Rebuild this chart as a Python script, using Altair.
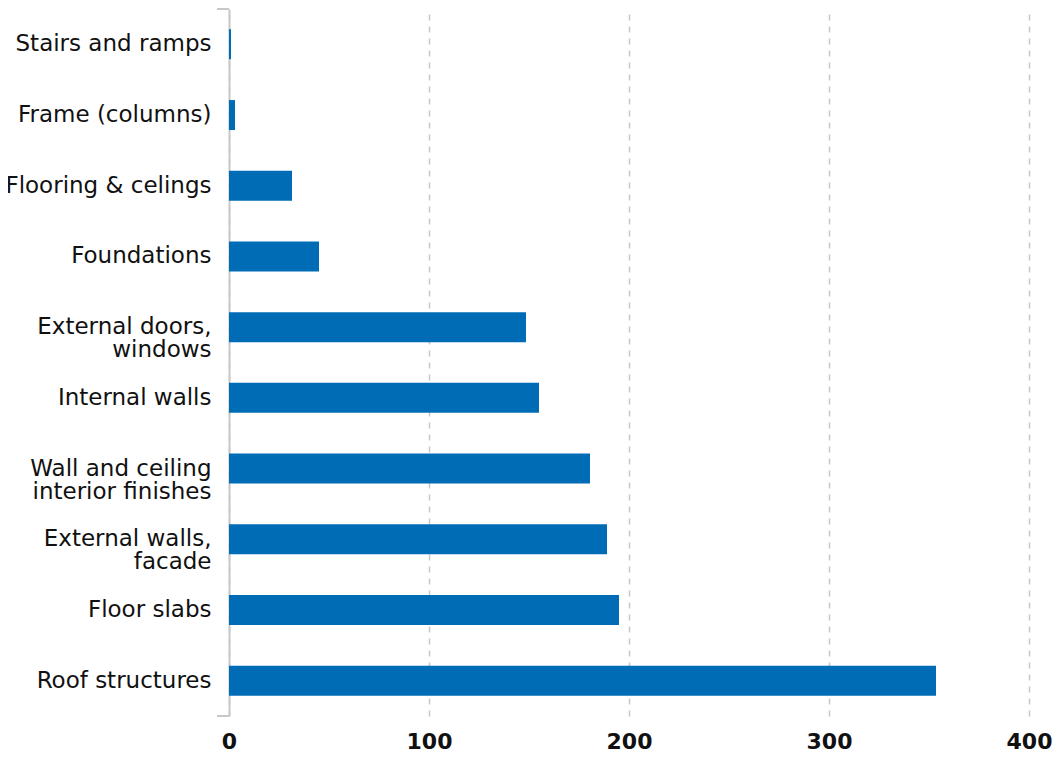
import altair as alt
import pandas as pd

categories = [
    "Stairs and ramps",
    "Frame (columns)",
    "Flooring & celings",
    "Foundations",
    "External doors,\nwindows",
    "Internal walls",
    "Wall and ceiling\ninterior finishes",
    "External walls,\nfacade",
    "Floor slabs",
    "Roof structures",
]
values = [1, 3, 31.5, 45, 148.5, 155, 180.5, 189, 195, 353.5]
x_ticks = [0, 100, 200, 300, 400]

df = pd.DataFrame({"category": categories, "value": values})

W, H = 800, 707
FONT = "DejaVu Sans"

bars = alt.Chart(df).mark_bar(size=30, color="#006CB5").encode(
    x=alt.X(
        "value:Q",
        scale=alt.Scale(domain=[0, 400], nice=False),
        axis=alt.Axis(
            values=x_ticks,
            title=None,
            domain=False,
            ticks=False,
            grid=True,
            gridColor="#c8c8c8",
            gridDash=[6, 6],
            gridWidth=1.5,
            labelFont=FONT,
            labelFontSize=22,
            labelFontWeight="bold",
            labelColor="#111111",
            labelPadding=15,
            labelFlush=False,
            labelOverlap=False,
        ),
    ),
    y=alt.Y(
        "category:N",
        sort=categories,
        title=None,
        axis=alt.Axis(
            ticks=False,
            domain=True,
            domainColor="#c8c8c8",
            domainWidth=2,
            labelFont=FONT,
            labelFontSize=23,
            labelColor="#111111",
            labelPadding=18,
            labelLimit=400,
            labelLineHeight=23,
            labelExpr="split(datum.value, '\\n')",
        ),
    ),
)

cap_top = alt.Chart(df).mark_rule(color="#c8c8c8", strokeWidth=2).encode(
    x=alt.value(-12), x2=alt.value(0), y=alt.value(0)
)
cap_bot = alt.Chart(df).mark_rule(color="#c8c8c8", strokeWidth=2).encode(
    x=alt.value(-12), x2=alt.value(0), y=alt.value(H)
)

chart = (
    alt.layer(bars, cap_top, cap_bot)
    .properties(
        width=W,
        height=H,
        autosize=alt.AutoSizeParams(type="none"),
        padding={"left": 221, "top": 1, "right": 23, "bottom": 34},
    )
    .configure_view(stroke=None)
)

chart.save("out.html", embed_options={"renderer": "svg", "actions": False})
